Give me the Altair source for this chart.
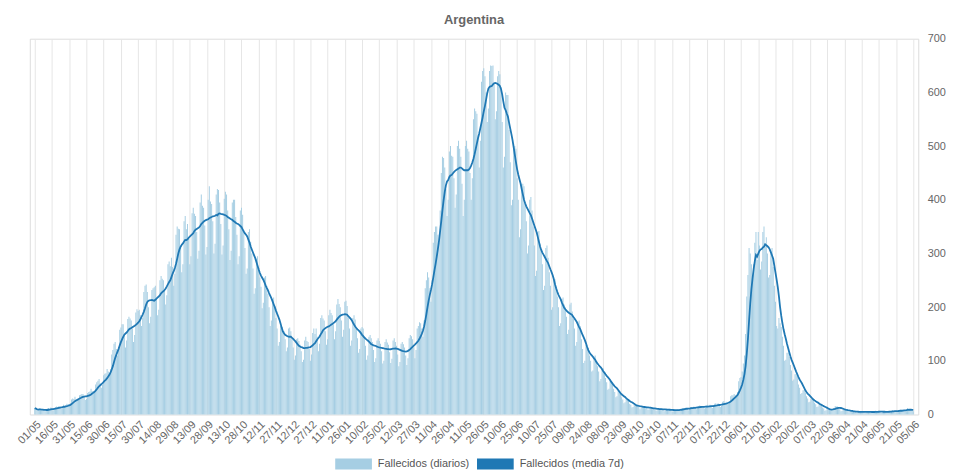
import altair as alt
import pandas as pd

# ---------------- data ----------------
START = "2020-05-01"
TITLE = "Argentina"
series_names = ["Fallecidos (diarios)", "Fallecidos (media 7d)"]
series_colors = ["#a6cee3", "#1f78b4"]

# daily deaths, one row = one week, from 2020-05-01 to 2020-12-31
deaths_2020 = [
    12, 10, 7, 8, 11, 9, 8,
    10, 8, 6, 7, 11, 12, 9,
    13, 11, 8, 10, 14, 15, 13,
    16, 14, 11, 12, 18, 17, 17,
    20, 19, 17, 18, 28, 30, 29,
    33, 28, 25, 27, 36, 37, 38,
    38, 33, 27, 29, 40, 42, 43,
    48, 44, 38, 41, 56, 60, 63,
    66, 58, 50, 55, 73, 76, 77,
    85, 80, 72, 85, 112, 120, 132,
    135, 122, 110, 125, 158, 162, 168,
    168, 150, 125, 138, 178, 182, 179,
    175, 160, 135, 148, 190, 196, 193,
    195, 185, 165, 180, 228, 240, 242,
    228, 200, 170, 182, 232, 235, 237,
    240, 215, 185, 195, 250, 258, 253,
    250, 232, 205, 222, 280, 285, 276,
    292, 275, 240, 262, 335, 350, 346,
    345, 310, 265, 280, 360, 370, 345,
    355, 330, 280, 295, 375, 385, 374,
    370, 340, 290, 305, 395, 410, 389,
    385, 352, 298, 312, 400, 425, 397,
    392, 360, 300, 318, 410, 420, 418,
    395, 355, 298, 315, 402, 415, 410,
    380, 345, 288, 305, 395, 400, 400,
    368, 335, 280, 295, 380, 385, 372,
    340, 310, 262, 272, 340, 345, 322,
    300, 272, 225, 235, 290, 295, 273,
    255, 238, 198, 208, 255, 258, 240,
    225, 200, 165, 175, 215, 218, 202,
    180, 160, 128, 135, 165, 163, 154,
    155, 140, 118, 125, 160, 162, 155,
    140, 125, 102, 110, 140, 142, 137,
    130, 118, 98, 102, 138, 145, 137,
    135, 122, 100, 112, 152, 160, 150,
]

# 2021-01-01 .. 2021-12-31
deaths_2021 = [
    160, 145, 118, 132, 180, 185, 179,
    175, 155, 130, 140, 185, 195, 189,
    185, 168, 140, 155, 205, 215, 206,
    200, 175, 145, 158, 210, 212, 202,
    180, 160, 128, 138, 180, 185, 177,
    160, 142, 115, 122, 160, 163, 160,
    142, 128, 102, 110, 145, 148, 142,
    135, 120, 98, 105, 138, 142, 137,
    132, 118, 95, 100, 135, 140, 134,
    130, 116, 96, 104, 138, 142, 135,
    128, 112, 90, 98, 132, 135, 131,
    125, 110, 92, 105, 142, 148, 146,
    140, 125, 105, 120, 160, 165, 172,
    170, 160, 145, 175, 235, 250, 265,
    255, 235, 210, 250, 320, 340, 350,
    350, 335, 320, 380, 450, 480, 478,
    460, 420, 370, 400, 490, 500, 482,
    480, 440, 385, 410, 500, 510, 495,
    480, 430, 370, 400, 500, 510, 495,
    490, 450, 400, 440, 550, 570, 565,
    560, 520, 460, 510, 620, 640, 645,
    630, 600, 545, 570, 640, 650, 649,
    650, 615, 550, 565, 630, 640, 634,
    610, 545, 460, 480, 600, 595, 595,
    530, 470, 390, 400, 505, 500, 495,
    440, 400, 330, 345, 430, 430, 425,
    395, 360, 300, 315, 400, 405, 380,
    350, 315, 258, 268, 340, 342, 318,
    305, 280, 232, 240, 310, 315, 292,
    265, 240, 195, 200, 255, 252, 238,
    220, 200, 165, 170, 215, 218, 205,
    200, 182, 150, 158, 205, 208, 192,
    178, 160, 128, 135, 172, 175, 165,
    140, 122, 96, 100, 130, 128, 124,
    110, 100, 80, 82, 108, 110, 96,
    90, 80, 62, 66, 85, 86, 77,
    68, 60, 46, 48, 64, 62, 58,
    48, 42, 32, 34, 44, 42, 38,
    32, 28, 21, 23, 30, 29, 26,
    20, 18, 13, 14, 19, 19, 16,
    16, 14, 10, 12, 16, 15, 15,
    14, 12, 9, 10, 14, 13, 12,
    11, 10, 7, 8, 12, 11, 11,
    10, 9, 6, 7, 11, 10, 10,
    9, 8, 5, 6, 10, 9, 9,
    10, 9, 7, 8, 12, 12, 12,
    13, 11, 8, 10, 14, 14, 14,
    15, 13, 10, 12, 16, 17, 15,
    16, 14, 11, 13, 17, 18, 16,
    18, 16, 12, 14, 20, 21, 18,
    21, 18, 14, 16, 24, 25, 22,
    24, 22, 20, 24, 34, 36, 36,
    38,
]

# 2022-01-01 .. 2022-06-05
deaths_2022 = [
    36, 34, 42, 62, 68, 70,
    80, 95, 110, 150, 220, 260, 310,
    300, 280, 250, 280, 320, 340, 288,
    340, 315, 270, 285, 340, 350, 319,
    330, 300, 255, 260, 300, 310, 275,
    240, 210, 165, 160, 180, 170, 163,
    145, 128, 100, 102, 115, 115, 107,
    92, 82, 63, 65, 75, 76, 72,
    56, 50, 38, 40, 45, 45, 41,
    34, 30, 23, 24, 29, 29, 27,
    22, 19, 14, 15, 19, 19, 18,
    13, 11, 7, 8, 11, 10, 10,
    10, 9, 8, 11, 16, 15, 15,
    12, 10, 6, 7, 10, 9, 9,
    8, 7, 4, 5, 7, 6, 5,
    6, 5, 3, 4, 6, 6, 5,
    6, 5, 3, 4, 6, 6, 5,
    5, 4, 3, 4, 7, 6, 6,
    6, 5, 3, 4, 6, 6, 5,
    6, 5, 4, 5, 7, 8, 7,
    7, 6, 5, 6, 9, 9, 7,
    9, 8, 6, 8, 12, 11, 9,
    8, 7, 6,
]

tick_dates = [
    "2020-05-01", "2020-05-16", "2020-05-31", "2020-06-15", "2020-06-30",
    "2020-07-15", "2020-07-30", "2020-08-14", "2020-08-29", "2020-09-13",
    "2020-09-28", "2020-10-13", "2020-10-28", "2020-11-12", "2020-11-27",
    "2020-12-12", "2020-12-27", "2021-01-11", "2021-01-26", "2021-02-10",
    "2021-02-25", "2021-03-12", "2021-03-27", "2021-04-11", "2021-04-26",
    "2021-05-11", "2021-05-26", "2021-06-10", "2021-06-25", "2021-07-10",
    "2021-07-25", "2021-08-09", "2021-08-24", "2021-09-08", "2021-09-23",
    "2021-10-08", "2021-10-23", "2021-11-07", "2021-11-22", "2021-12-07",
    "2021-12-22", "2022-01-06", "2022-01-21", "2022-02-05", "2022-02-20",
    "2022-03-07", "2022-03-22", "2022-04-06", "2022-04-21", "2022-05-06",
    "2022-05-21", "2022-06-05",
]
y_ticks = [0, 100, 200, 300, 400, 500, 600, 700]

# ---------------- chart ----------------
daily = deaths_2020 + deaths_2021 + deaths_2022
df = pd.DataFrame({
    "date": pd.date_range(START, periods=len(daily), freq="D"),
    "value": daily,
})


def dt(s):
    return alt.DateTime(year=int(s[:4]), month=int(s[5:7]), date=int(s[8:10]))


FONT = "Liberation Sans"
x_scale = alt.Scale(domain=[dt(tick_dates[0]), dt(tick_dates[-1])])
y_scale = alt.Scale(domain=[0, 700], nice=False)

x_axis = alt.Axis(
    values=[dt(s) for s in tick_dates], format="%d/%m", labelAngle=-45,
    labelAlign="right", labelBaseline="top", grid=True, gridColor="#e6e6e6",
    ticks=False, domain=False, labelColor="#666666", labelFontSize=11,
    labelFont=FONT, labelPadding=4, labelOverlap=False, labelFlush=False,
    labelBound=False, title=None,
)
y_axis = alt.Axis(
    orient="right", values=y_ticks, grid=False, ticks=False, domain=False,
    labelColor="#666666", labelFontSize=11, labelFont=FONT, labelPadding=9,
    title=None,
)

base = alt.Chart(df)

bars = base.transform_calculate(
    series=f"'{series_names[0]}'"
).mark_bar(width=1).encode(
    x=alt.X("date:T", scale=x_scale, axis=x_axis),
    y=alt.Y("value:Q", scale=y_scale, axis=y_axis),
    color=alt.Color(
        "series:N",
        scale=alt.Scale(domain=series_names, range=series_colors),
        legend=alt.Legend(
            orient="none", legendX=308, legendY=410, direction="horizontal",
            title=None, symbolType="M-1,-0.3L1,-0.3L1,0.3L-1,0.3Z",
            symbolSize=1369, symbolStrokeWidth=0, symbolOpacity=1,
            labelFontSize=11, labelColor="#555555", labelFont=FONT,
            columnPadding=7, labelOffset=6, padding=0,
        ),
    ),
)

line = base.transform_window(
    avg="mean(value)", frame=[-6, 0], sort=[alt.SortField("date")]
).mark_line(color=series_colors[1], strokeWidth=1.8).encode(
    x=alt.X("date:T", scale=x_scale, axis=x_axis),
    y=alt.Y("avg:Q", scale=y_scale, axis=y_axis),
)

chart = alt.layer(bars, line).properties(
    width=896,
    height=379,
    autosize=alt.AutoSizeParams(type="none"),
    padding={"left": 22, "top": 29, "right": 30, "bottom": 56},
    title=alt.Title(
        TITLE, fontSize=13, fontWeight="bold", color="#666666", offset=14,
        baseline="alphabetic", anchor="middle", font=FONT, frame="group",
        dy=18,
    ),
).configure_view(stroke=None).configure(font=FONT)

chart.save("out.html", embed_options={"renderer": "svg", "actions": False})
